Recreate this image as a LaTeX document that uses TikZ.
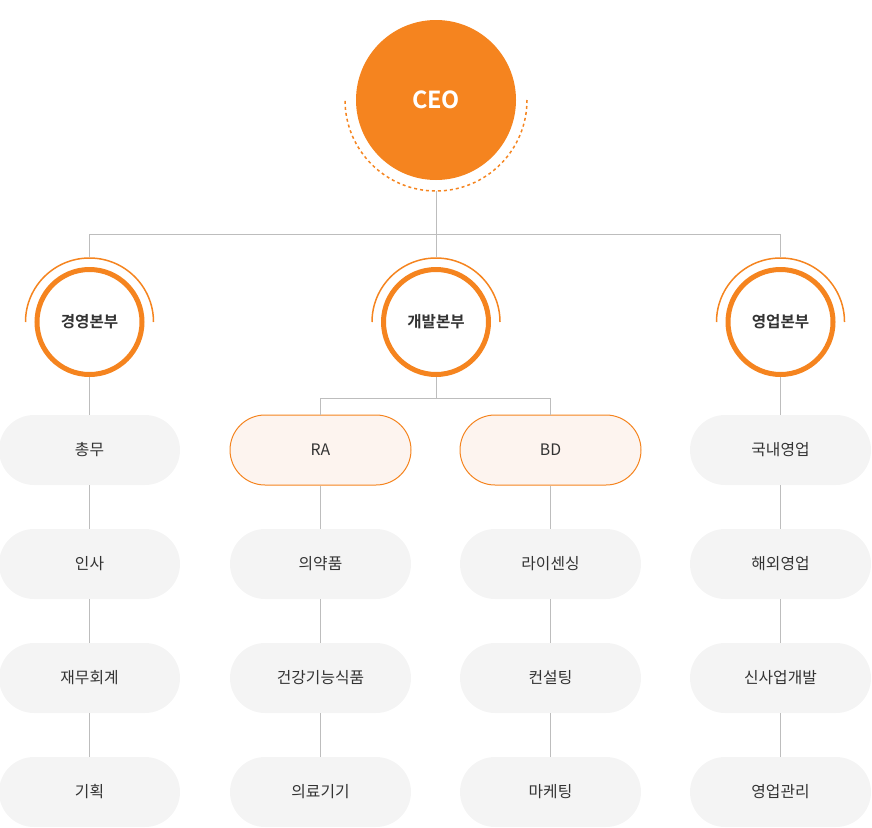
\documentclass[tikz,border=0pt]{standalone}
\usepackage{fontspec}
\setmainfont{Noto Sans CJK KR}[BoldFont={Noto Sans CJK KR Bold}]
\usetikzlibrary{positioning}
\definecolor{ceoorange}{HTML}{F5841F}
\definecolor{wiregray}{HTML}{BDBDBD}
\definecolor{teamgray}{HTML}{F4F4F4}
\definecolor{teampeach}{HTML}{FDF4EF}
\definecolor{textdark}{HTML}{333333}
\tikzset{
    wire/.style={wiregray, line width=1pt},
    ceobox/.style={circle, fill=ceoorange, minimum size=160pt, inner sep=0pt,
        text=white, font=\bfseries\fontsize{23.5}{28}\selectfont},
    deptbox/.style={circle, draw=ceoorange, line width=5pt, fill=white,
        minimum size=105pt, inner sep=0pt, text=textdark,
        font=\bfseries\fontsize{15.6}{19}\selectfont},
    teambox/.style={rectangle, rounded corners=35pt, fill=teamgray,
        minimum width=181pt, minimum height=70pt, inner sep=0pt, text=textdark,
        font=\fontsize{15.8}{19}\selectfont},
    unitbox/.style={teambox, fill=teampeach, draw=ceoorange, line width=1pt},
    halo/.style={ceoorange, line width=1.5pt}
}
\begin{document}
\begin{tikzpicture}[x=1pt, y=-1pt]
        \useasboundingbox (0,0) rectangle (872,827);

        % CEO and its dashed half ring
        \node[ceobox] (ceo) at (436,100) {CEO};
        \draw[halo, dash pattern=on 3pt off 3pt] (527,100) arc[start angle=0, end angle=180, radius=91];

        % Divisions
        \node[deptbox] (mgmt) at (89.5,322) {경영본부};
        \node[deptbox] (dev) at (436,322) {개발본부};
        \node[deptbox] (sales) at (780.5,322) {영업본부};
        \draw[halo] (153.5,322) arc[start angle=0, end angle=-180, radius=64];
        \draw[halo] (500,322) arc[start angle=0, end angle=-180, radius=64];
        \draw[halo] (844.5,322) arc[start angle=0, end angle=-180, radius=64];

        % Teams under 경영본부
        \node[teambox] (mgmt1) at (89.5,450) {총무};
        \node[teambox] (mgmt2) at (89.5,564) {인사};
        \node[teambox] (mgmt3) at (89.5,678) {재무회계};
        \node[teambox] (mgmt4) at (89.5,792) {기획};

        % Units and teams under 개발본부
        \node[unitbox] (ra) at (320.5,450) {RA};
        \node[teambox] (ra1) at (320.5,564) {의약품};
        \node[teambox] (ra2) at (320.5,678) {건강기능식품};
        \node[teambox] (ra3) at (320.5,792) {의료기기};
        \node[unitbox] (bd) at (550.5,450) {BD};
        \node[teambox] (bd1) at (550.5,564) {라이센싱};
        \node[teambox] (bd2) at (550.5,678) {컨설팅};
        \node[teambox] (bd3) at (550.5,792) {마케팅};

        % Teams under 영업본부
        \node[teambox] (sales1) at (780.5,450) {국내영업};
        \node[teambox] (sales2) at (780.5,564) {해외영업};
        \node[teambox] (sales3) at (780.5,678) {신사업개발};
        \node[teambox] (sales4) at (780.5,792) {영업관리};

        % Connectors
        \coordinate (hub) at (436,234);
        \coordinate (devhub) at (436,398);
        \draw[wire, shorten <=11pt] (ceo.south) -- (hub);
        \draw[wire, shorten <=10pt] (mgmt.north) |- (hub);
        \draw[wire, shorten <=10pt] (sales.north) |- (hub);
        \draw[wire, shorten <=10pt] (dev.north) -- (hub);
        \draw[wire] (dev.south) -- (devhub);
        \draw[wire] (ra.north) |- (devhub);
        \draw[wire] (bd.north) |- (devhub);
        \draw[wire] (mgmt.south) -- (mgmt1.north);
        \draw[wire] (mgmt1) -- (mgmt2) (mgmt2) -- (mgmt3) (mgmt3) -- (mgmt4);
        \draw[wire] (ra) -- (ra1) (ra1) -- (ra2) (ra2) -- (ra3);
        \draw[wire] (bd) -- (bd1) (bd1) -- (bd2) (bd2) -- (bd3);
        \draw[wire] (sales.south) -- (sales1.north);
        \draw[wire] (sales1) -- (sales2) (sales2) -- (sales3) (sales3) -- (sales4);
    \end{tikzpicture}
\end{document}
